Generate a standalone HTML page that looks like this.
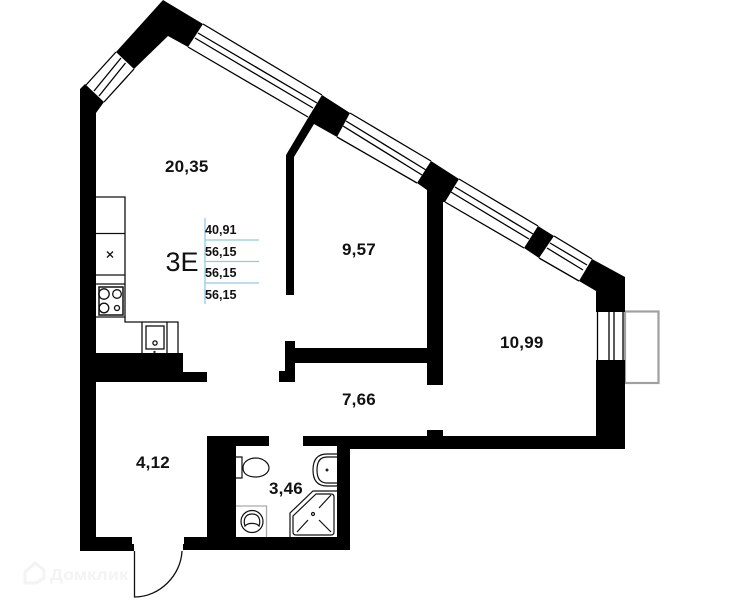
<!DOCTYPE html>
<html>
<head>
<meta charset="utf-8">
<style>
html,body{margin:0;padding:0;background:#fff;width:740px;height:600px;overflow:hidden}
svg{display:block}
text{font-family:"Liberation Sans",sans-serif}
.a{font-size:17px;font-weight:bold;fill:#111;letter-spacing:.2px}
.s{font-size:12.6px;font-weight:bold;fill:#111}
</style>
</head>
<body>
<svg width="740" height="600" viewBox="0 0 740 600" xmlns="http://www.w3.org/2000/svg">
<!-- balcony -->
<rect x="625" y="311.500" width="33.500" height="71.500" fill="none" stroke="#a0a0a0" stroke-width="2.200"/>
<!-- window lines -->
<g fill="none" stroke="#000" stroke-width="1.300">
<path d="M116 52L86 85M134 69L104 102M121 58L94 91M125.500 63L99 96"/>
<path d="M203 24L322 95M188 47L308 117M198 33L317 103M195 38L313 108"/>
<path d="M350 113L431 161M337 137L417 183M346 121L426 170M343 126L422 175"/>
<path d="M459 179L538 226M445 202L524 248M455 187L533 234M451 192L529 239"/>
<path d="M554 236L592 259M539 258L579 281M550 243L587 265M547 248L583 270"/>
<path d="M597.500 312V360M609 312V360M614 312V360M623 312V360"/>
</g>
<!-- walls -->
<g fill="#000">
<path d="M163 0L203 24L188 47L168 36L134 69L116 52Z"/>
<path d="M85 84L104 102L96 113V537H132V544H134V551H80V89Z"/>
<path d="M322 95L350 113L337 137L314 124L294 157V295H286V155L308 118Z"/>
<path d="M431 161L459 179L445 202L443 202V385H427V190L417 183Z"/>
<path d="M538 226L554 236L539 258L524 248Z"/>
<path d="M592 259L625 277V312H596V291L579 281Z"/>
<path d="M596 360H625V449H350V550H183V544H184V537H207V436H269V446H236V537H337V446H303V436H427V430H443V436H596Z"/>
<path d="M96 353H183V372H207V382H96Z"/>
<path d="M285 341H295V348H427V363H295V382H279V371H285Z"/>
</g>
<!-- door -->
<path d="M134.500 551V597C160 597 181 575 182 551" fill="none" stroke="#111" stroke-width="1.300"/>
<!-- kitchen -->
<g fill="none" stroke="#111" stroke-width="1.300">
<path d="M96 197H125V322H178V353M96 233.500H125M96 275H125M96 284H125M96 317H125M142 322V353M167 322V353"/>
<rect x="146" y="326" width="18" height="23"/>
<rect x="99" y="287" width="24" height="28" stroke-width="1.500"/>
<circle cx="104" cy="294" r="5.200"/>
<circle cx="117" cy="294" r="4.300"/>
<circle cx="104" cy="308" r="4.800"/>
<circle cx="117" cy="308" r="2.500"/>
<circle cx="155" cy="343" r="2.100"/>
<path d="M107 251.500L113 257.500M113 251.500L107 257.500"/>
</g>
<circle cx="154.500" cy="352" r="1.200" fill="#333"/>
<!-- bathroom -->
<g fill="none" stroke="#111" stroke-width="1.200">
<path d="M236 457H242V478H236"/>
<path d="M243 468C243 461 250 458 256 458C263 458 269 463 269 468C269 473 263 477 256 477C250 477 243 475 243 468Z"/>
<path d="M337 454H327Q313 454 313 470Q313 486 327 486H337"/>
<path d="M337 457H327Q317 457 317 470Q317 483 327 483H337"/>
<path d="M337 491H313L290 513V537"/>
<path d="M316 494H331Q334 494 334 497V532Q334 535 331 535H296Q293 535 293 532V516Z"/>
<path d="M331 495L319 508M297 532L308 520M331 532L319 520"/>
<circle cx="313" cy="514" r="1.500"/>
<circle cx="252" cy="521.500" r="11"/>
<path d="M245 526C243 520 245 514 252 514C259 514 261 520 259 526C256 522.500 248 522.500 245 526Z" />
</g>
<path d="M236 506H266.500V537" fill="none" stroke="#aaa" stroke-width="1.300"/>
<circle cx="327" cy="470" r="1.500" fill="#222"/>
<!-- blue lines -->
<g stroke="#8ecde0" stroke-width="1.300" fill="none">
<path d="M205 218V304M205 240H259M205 261.500H259M205 283H259"/>
</g>
<!-- labels -->
<text class="a" x="165" y="172">20,35</text>
<text class="a" x="342" y="255">9,57</text>
<text class="a" x="500" y="348">10,99</text>
<text class="a" x="342" y="405">7,66</text>
<text class="a" x="136" y="468">4,12</text>
<text class="a" x="269" y="494">3,46</text>
<text x="165.500" y="271" font-size="27" fill="#111">3Е</text>
<text class="s" x="205" y="234">40,91</text>
<text class="s" x="205" y="256">56,15</text>
<text class="s" x="205" y="277">56,15</text>
<text class="s" x="205" y="299">56,15</text>
<!-- watermark -->
<g fill="none" stroke="#f3f3f3" stroke-width="3">
<path d="M25 572L35 563L44 570V578L36 583H25Z"/>
</g>
<text x="50" y="580" font-size="16" font-weight="bold" fill="#f3f3f3" textLength="78" lengthAdjust="spacingAndGlyphs">Домклик</text>
</svg>
</body>
</html>
